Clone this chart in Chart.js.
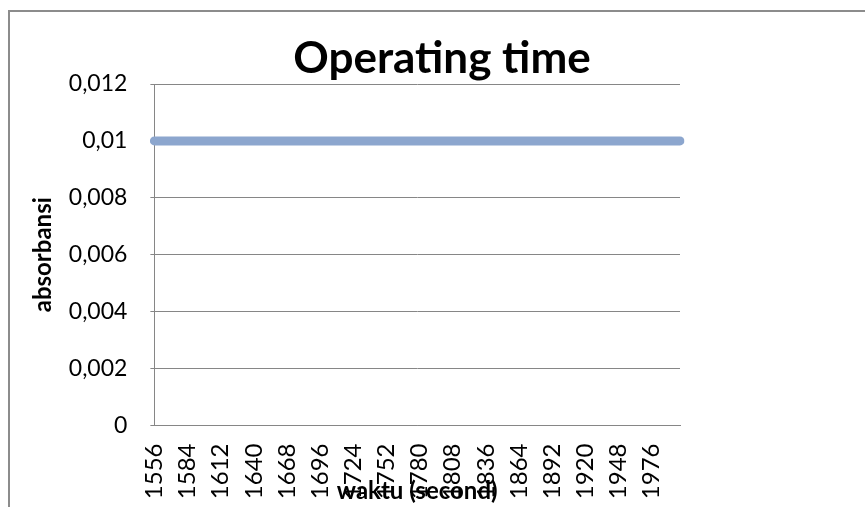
<!DOCTYPE html>
<html>
<head>
<meta charset="utf-8">
<script src="https://cdn.jsdelivr.net/npm/chart.js@4"></script>
<style>
    body { margin: 0; background: #fff; overflow: hidden; }
    .chart-box { position: relative; width: 865px; height: 507px; }
</style>
</head>
<body>
<div class="chart-box"><canvas id="chart-operating"></canvas></div>
<script>
// waktu (second), one reading every 4 s
var waktu = [
    1556, 1560, 1564, 1568, 1572, 1576, 1580,
    1584, 1588, 1592, 1596, 1600, 1604, 1608,
    1612, 1616, 1620, 1624, 1628, 1632, 1636,
    1640, 1644, 1648, 1652, 1656, 1660, 1664,
    1668, 1672, 1676, 1680, 1684, 1688, 1692,
    1696, 1700, 1704, 1708, 1712, 1716, 1720,
    1724, 1728, 1732, 1736, 1740, 1744, 1748,
    1752, 1756, 1760, 1764, 1768, 1772, 1776,
    1780, 1784, 1788, 1792, 1796, 1800, 1804,
    1808, 1812, 1816, 1820, 1824, 1828, 1832,
    1836, 1840, 1844, 1848, 1852, 1856, 1860,
    1864, 1868, 1872, 1876, 1880, 1884, 1888,
    1892, 1896, 1900, 1904, 1908, 1912, 1916,
    1920, 1924, 1928, 1932, 1936, 1940, 1944,
    1948, 1952, 1956, 1960, 1964, 1968, 1972,
    1976, 1980, 1984, 1988, 1992, 1996, 2000
];

var absorbansi = [
    0.01, 0.01, 0.01, 0.01, 0.01, 0.01, 0.01, 0.01, 0.01, 0.01, 0.01, 0.01, 0.01, 0.01, 0.01, 0.01,
    0.01, 0.01, 0.01, 0.01, 0.01, 0.01, 0.01, 0.01, 0.01, 0.01, 0.01, 0.01, 0.01, 0.01, 0.01, 0.01,
    0.01, 0.01, 0.01, 0.01, 0.01, 0.01, 0.01, 0.01, 0.01, 0.01, 0.01, 0.01, 0.01, 0.01, 0.01, 0.01,
    0.01, 0.01, 0.01, 0.01, 0.01, 0.01, 0.01, 0.01, 0.01, 0.01, 0.01, 0.01, 0.01, 0.01, 0.01, 0.01,
    0.01, 0.01, 0.01, 0.01, 0.01, 0.01, 0.01, 0.01, 0.01, 0.01, 0.01, 0.01, 0.01, 0.01, 0.01, 0.01,
    0.01, 0.01, 0.01, 0.01, 0.01, 0.01, 0.01, 0.01, 0.01, 0.01, 0.01, 0.01, 0.01, 0.01, 0.01, 0.01,
    0.01, 0.01, 0.01, 0.01, 0.01, 0.01, 0.01, 0.01, 0.01, 0.01, 0.01, 0.01, 0.01, 0.01, 0.01, 0.01
];

// labels Excel actually printed on the x axis
var xTickLabels = [1556, 1584, 1612, 1640, 1668, 1696, 1724, 1752, 1780, 1808, 1836, 1864, 1892, 1920, 1948, 1976];

var FONT = "Lato, 'Open Sans', sans-serif";
var GRID = "#868686";

// outer frame + big title drawn on the canvas (title overlaps the plot top like in Excel)
var frameTitle = {
    id: "frameTitle",
    beforeDraw: function (chart) {
        var ctx = chart.ctx;
        ctx.save();
        ctx.strokeStyle = "#8c8c8c";
        ctx.lineWidth = 2;
        ctx.beginPath();
        ctx.moveTo(9, chart.height);
        ctx.lineTo(9, 11);
        ctx.lineTo(chart.width, 11);
        ctx.stroke();
        ctx.restore();
    },
    afterDraw: function (chart) {
        var ctx = chart.ctx;
        ctx.save();
        ctx.fillStyle = "#000";
        ctx.font = "bold 44px " + FONT;
        ctx.textAlign = "center";
        ctx.textBaseline = "alphabetic";
        ctx.fillText("Operating time", 442, 73);
        ctx.restore();
    }
};

new Chart("chart-operating", {
    type: "line",
    data: {
        labels: waktu,
        datasets: [{
            label: "absorbansi",
            data: absorbansi,
            borderColor: "#8ca6ce",
            backgroundColor: "#8ca6ce",
            borderWidth: 9,
            borderCapStyle: "round",
            pointRadius: 0,
            tension: 0
        }]
    },
    options: {
        responsive: true,
        maintainAspectRatio: false,
        animation: false,
        layout: {
            padding: { top: 84, right: 185, left: 17, bottom: 0 }
        },
        plugins: {
            legend: { display: false },
            tooltip: { enabled: false }
        },
        scales: {
            x: {
                offset: false,
                grid: { display: false, drawTicks: false },
                border: { display: true, color: GRID, width: 1 },
                ticks: {
                    autoSkip: false,
                    minRotation: 90,
                    maxRotation: 90,
                    padding: 18,
                    color: "#000",
                    font: { family: FONT, size: 24 },
                    callback: function (val, i) {
                        var w = waktu[i];
                        return xTickLabels.indexOf(w) >= 0 ? String(w) : "";
                    }
                },
                title: {
                    display: true,
                    text: "waktu (second)",
                    color: "#000",
                    font: { family: FONT, size: 24, weight: "bold" },
                    padding: { top: -40, bottom: 1 }
                }
            },
            y: {
                min: 0,
                max: 0.012,
                grid: { color: GRID, lineWidth: 1, tickLength: 4 },
                border: { display: true, color: GRID, width: 1 },
                ticks: {
                    stepSize: 0.002,
                    padding: 23,
                    color: "#000",
                    font: { family: FONT, size: 23 },
                    callback: function (v) {
                        return String(v).replace(".", ",");
                    }
                },
                title: {
                    display: true,
                    text: "absorbansi",
                    color: "#000",
                    font: { family: FONT, size: 24, weight: "bold" },
                    padding: { top: 12, bottom: -12 }
                }
            }
        }
    },
    plugins: [frameTitle]
});
</script>
</body>
</html>
